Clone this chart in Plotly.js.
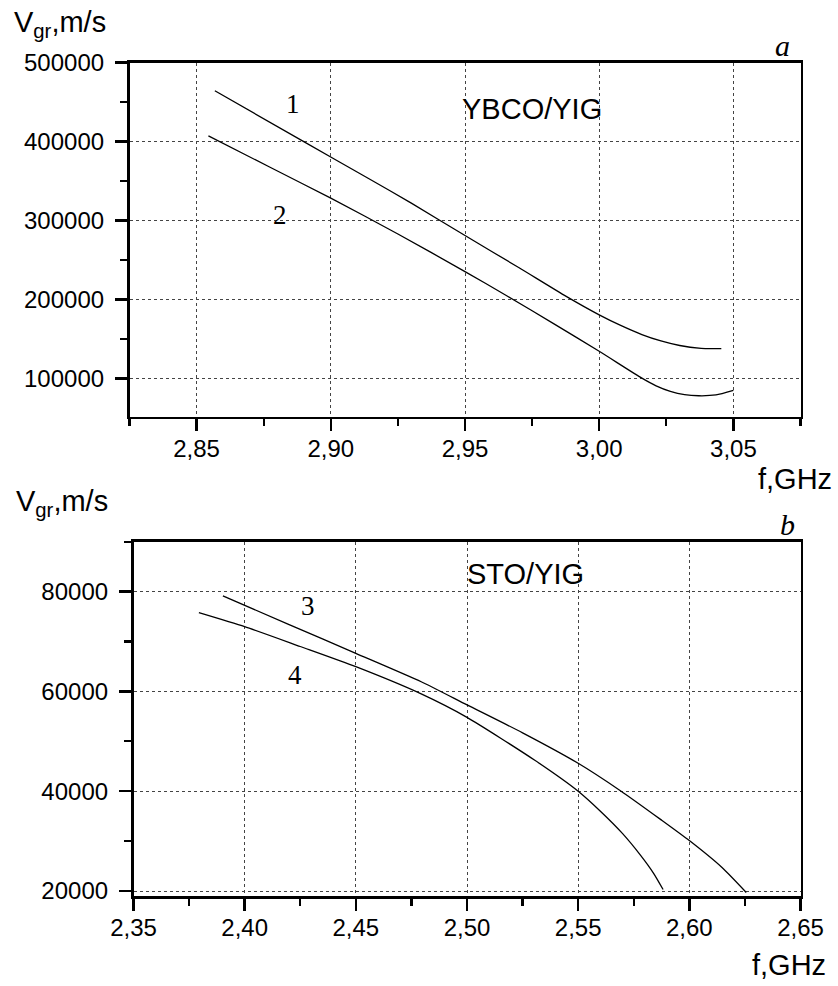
<!DOCTYPE html>
<html>
<head>
<meta charset="utf-8">
<script src="https://cdn.plot.ly/plotly-3.0.1.min.js"></script>
<style>
html,body{margin:0;padding:0;background:#fff;}
#chart{width:838px;height:986px;}
</style>
</head>
<body>
<div id="chart"></div>
<script>
// ---- Data (panel a: YBCO/YIG) ----
const curve1_f = [2.8568, 2.8896, 2.9139, 2.9300, 2.9500, 2.9700, 2.9877, 3.0000, 3.0080, 3.0159, 3.0230, 3.0300, 3.0380, 3.0420, 3.0455];
const curve1_v = [464200, 400500, 353500, 322000, 281000, 240500, 204000, 180600, 167200, 155700, 147600, 141800, 138200, 137800, 137900];
const curve2_f = [2.8544, 2.8770, 2.9000, 2.9250, 2.9500, 2.9657, 2.9830, 3.0000, 3.0159, 3.0212, 3.0265, 3.0318, 3.0371, 3.0435, 3.0500];
const curve2_v = [407200, 368000, 328400, 283000, 235400, 204500, 169500, 134500, 100500, 90800, 83800, 79600, 78200, 79200, 85000];
// ---- Data (panel b: STO/YIG) ----
const curve3_f = [2.3902, 2.4200, 2.4500, 2.4794, 2.5000, 2.5250, 2.5500, 2.5690, 2.5872, 2.6000, 2.6147, 2.6256];
const curve3_v = [79140, 73400, 67640, 61940, 57300, 51700, 45600, 40100, 34300, 30100, 24700, 19700];
const curve4_f = [2.3794, 2.4000, 2.4250, 2.4500, 2.4794, 2.5000, 2.5305, 2.5500, 2.5600, 2.5700, 2.5780, 2.5840, 2.5882];
const curve4_v = [75790, 72980, 69000, 64950, 59500, 54800, 46200, 40000, 36000, 31500, 27200, 23500, 20300];

const topXRange = [2.825, 3.075];
const topYRange = [51700, 500000];
const botXRange = [2.35, 2.65];
const botYRange = [19000, 90000];

const W = 838, H = 986;
const px = x => x / W;
const py = y => 1 - y / H;

const lineStyle = {color: '#000', width: 1.3, shape: 'spline', smoothing: 0.6};
const traces = [
  {x: curve1_f, y: curve1_v, xaxis: 'x', yaxis: 'y', mode: 'lines', line: lineStyle, hoverinfo: 'skip'},
  {x: curve2_f, y: curve2_v, xaxis: 'x', yaxis: 'y', mode: 'lines', line: lineStyle, hoverinfo: 'skip'},
  {x: curve3_f, y: curve3_v, xaxis: 'x2', yaxis: 'y2', mode: 'lines', line: lineStyle, hoverinfo: 'skip'},
  {x: curve4_f, y: curve4_v, xaxis: 'x2', yaxis: 'y2', mode: 'lines', line: lineStyle, hoverinfo: 'skip'}
];

const tickFont = {family: 'Liberation Sans, Arial, sans-serif', size: 24, color: '#000'};
const gridCommon = {showgrid: true, gridcolor: '#444', griddash: 'dot', gridwidth: 1, zeroline: false,
  showline: true, linecolor: '#000', linewidth: 2.6, mirror: true, ticks: 'outside', ticklen: 12, tickwidth: 2.4,
  tickcolor: '#000', tickfont: tickFont};

function xAxis(range, tick0, domain, anchor) {
  return Object.assign({}, gridCommon, {range: range, domain: domain, anchor: anchor, tick0: tick0, dtick: 0.05,
    tickformat: '.2f', ticklabelstandoff: -3,
    minor: {ticks: 'outside', ticklen: 7, tickwidth: 2.2, dtick: 0.025, tick0: tick0, tickcolor: '#000', showgrid: false}});
}
function yAxis(range, dtick, minorDtick, domain, anchor) {
  return Object.assign({}, gridCommon, {range: range, domain: domain, anchor: anchor, tick0: 0, dtick: dtick,
    tickformat: 'd', ticklabelstandoff: 6,
    minor: {ticks: 'outside', ticklen: 7, tickwidth: 2.2, dtick: minorDtick, tick0: 0, tickcolor: '#000', showgrid: false}});
}

const sansBig = {family: 'Liberation Sans, Arial, sans-serif', size: 29, color: '#000'};
const serif = {family: 'Liberation Serif, Times New Roman, serif', size: 27, color: '#000'};
const serifIt = {family: 'Liberation Serif, Times New Roman, serif', size: 30, color: '#000'};

function ann(text, x, y, font, xanchor) {
  return {text: text, x: px(x), y: py(y), xref: 'paper', yref: 'paper', showarrow: false,
    xanchor: xanchor || 'center', yanchor: 'middle', font: font};
}

const layout = {
  width: W, height: H,
  margin: {l: 0, r: 0, t: 0, b: 0},
  paper_bgcolor: '#fff', plot_bgcolor: '#fff',
  showlegend: false,
  separators: ', ',
  xaxis: xAxis(topXRange, 2.85, [px(129.5), px(800.5)], 'y'),
  yaxis: yAxis(topYRange, 100000, 50000, [py(416.7), py(62.5)], 'x'),
  xaxis2: xAxis(botXRange, 2.35, [px(133.5), px(800.5)], 'y2'),
  yaxis2: yAxis(botYRange, 20000, 10000, [py(896), py(541.7)], 'x2'),
  annotations: [
    ann('V<sub>gr</sub>,m/s', 12, 24, sansBig, 'left'),
    ann('V<sub>gr</sub>,m/s', 14, 503, sansBig, 'left'),
    ann('f,GHz', 834, 479, sansBig, 'right'),
    ann('f,GHz', 828, 965, sansBig, 'right'),
    ann('YBCO/YIG', 532, 109, sansBig),
    ann('STO/YIG', 525, 574, sansBig),
    ann('<i>a</i>', 782, 45, serifIt),
    ann('<i>b</i>', 787, 524, serifIt),
    ann('1', 293, 104, serif),
    ann('2', 280, 215, serif),
    ann('3', 308, 606, serif),
    ann('4', 294.5, 675, serif)
  ]
};

Plotly.newPlot('chart', traces, layout, {staticPlot: true, displayModeBar: false});
</script>
</body>
</html>
